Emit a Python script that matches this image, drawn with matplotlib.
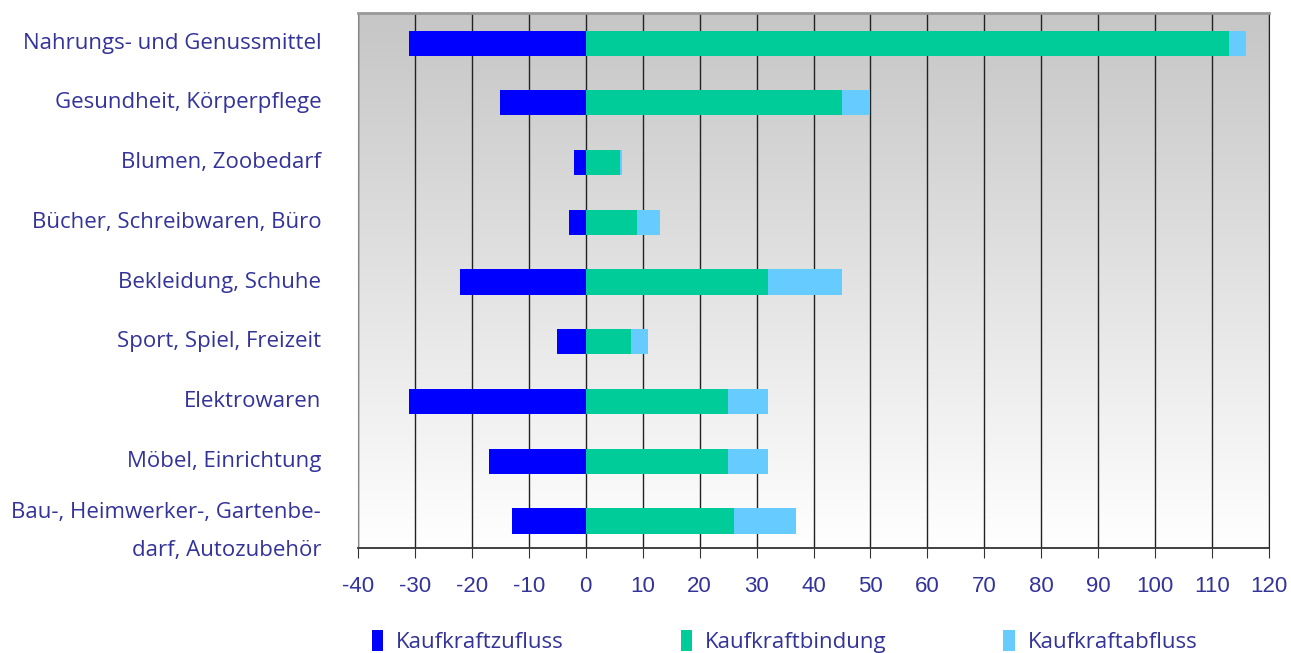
import matplotlib.pyplot as plt
import numpy as np

categories = ['Nahrungs- und Genussmittel', 'Gesundheit, Körperpflege', 'Blumen, Zoobedarf',
              'Bücher, Schreibwaren, Büro', 'Bekleidung, Schuhe', 'Sport, Spiel, Freizeit',
              'Elektrowaren', 'Möbel, Einrichtung', 'Bau-, Heimwerker-, Gartenbe-\ndarf, Autozubehör']
zufluss = [-31, -15, -2, -3, -22, -5, -31, -17, -13]
bindung = [113, 45, 6, 9, 32, 8, 25, 25, 26]
abfluss = [3, 5, 0.4, 4, 13, 3, 7, 7, 11]

plt.rcParams['axes.unicode_minus'] = False
txt = '#333399'
fig = plt.figure(figsize=(12.91, 6.53), dpi=100)
ax = fig.add_axes([0.2773, 0.1608, 0.983 - 0.2773, 0.980 - 0.1608])

# grey-to-white background
grad = np.linspace(0, 1, 256).reshape(-1, 1)
ax.imshow(grad, cmap=plt.cm.colors.LinearSegmentedColormap.from_list('g', ['#c6c6c6', '#ffffff']),
          extent=[0, 1, 0, 1], transform=ax.transAxes, aspect='auto', zorder=0)

y = np.arange(len(categories))
h = 0.42
ax.barh(y, zufluss, height=h, color='#0000ff', label='Kaufkraftzufluss', zorder=3)
ax.barh(y, bindung, height=h, color='#00cc99', label='Kaufkraftbindung', zorder=3)
ax.barh(y, abfluss, left=bindung, height=h, color='#66ccff', label='Kaufkraftabfluss', zorder=3)

ax.set_xlim(-40, 120)
ax.set_ylim(8.452, -0.502)
ax.set_xticks(range(-40, 121, 10))
ax.set_yticks(y)
ax.set_yticklabels(categories, fontfamily='Open Sans', fontsize=16, color=txt, linespacing=2.05)
for lab in ax.get_yticklabels()[:-1]:
    lab.set_verticalalignment('center')
ax.tick_params(axis='y', length=0, pad=26.5)
ax.tick_params(axis='x', length=7, direction='out', pad=13, colors='#333333', labelcolor=txt)
for lab in ax.get_xticklabels():
    lab.set_fontfamily('Liberation Sans')
    lab.set_fontsize(16)
ax.grid(axis='x', color='#222222', linewidth=1.0, zorder=1)
ax.set_axisbelow(True)

ax.spines['top'].set_color('#999999')
ax.spines['top'].set_linewidth(2)
ax.spines['left'].set_color('#888888')
ax.spines['right'].set_color('#222222')
ax.spines['bottom'].set_color('#333333')
ax.spines['bottom'].set_linewidth(1.3)

leg = fig.legend(loc='lower left', bbox_to_anchor=(0.2725, -0.031), ncol=3, frameon=False,
                 prop={'family': 'Open Sans', 'size': 16}, handlelength=0.5, handleheight=1.1,
                 handletextpad=0.6, columnspacing=5.25)
for t in leg.get_texts():
    t.set_color(txt)

fig.savefig('out.png', dpi=100)
